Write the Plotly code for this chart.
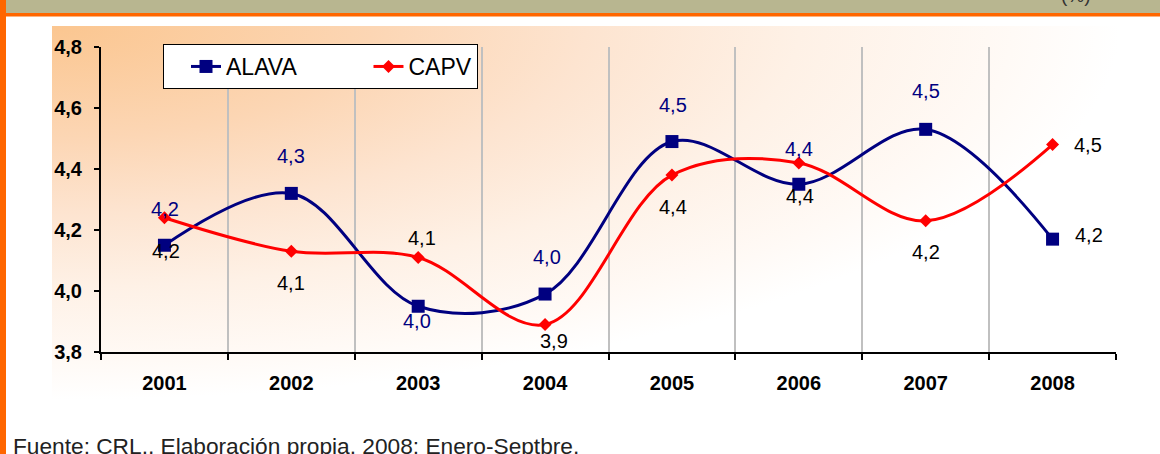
import base64
import plotly.graph_objects as go

# Datos (tasas, %)
years = ["2001", "2002", "2003", "2004", "2005", "2006", "2007", "2008"]
alava = [4.15, 4.32, 3.95, 3.99, 4.49, 4.35, 4.53, 4.17]
capv = [4.24, 4.13, 4.11, 3.89, 4.38, 4.42, 4.23, 4.48]
alava_labels = ["4,2", "4,3", "4,0", "4,0", "4,5", "4,4", "4,5", "4,2"]
capv_labels = ["4,2", "4,1", "4,1", "3,9", "4,4", "4,4", "4,2", "4,5"]

# desplazamientos de las etiquetas (px)
alava_shift = [(1, 36), (0, 37), (-1, -15), (2, 37), (1, 37), (0, 35), (0, 38), (36, 4)]
capv_shift = [(2, -33), (0, -32), (4, 19), (9, -16), (1, -32), (1, -33), (0, -31), (35, 0)]
alava_label_col = ["#000080"] * 7 + ["#000000"]

NAVY = "#000080"
RED = "#FF0000"
ORANGE = "#FF6600"
FONT = "Liberation Sans, Arial, sans-serif"
NBSP = "\u00a0"

W, H = 1160, 454
L, R, T, B = 101, 1116, 47, 352


def px_x(p):
    return (p - L) / (R - L)


def px_y(p):
    return (B - p) / (B - T)


fig = go.Figure()
fig.add_trace(go.Scatter(
    x=years, y=alava, name="ALAVA" + NBSP * 7, mode="lines+markers",
    line=dict(color=NAVY, width=3, shape="spline", smoothing=1),
    marker=dict(symbol="square", size=13, color=NAVY),
))
fig.add_trace(go.Scatter(
    x=years, y=capv, name="CAPV", mode="lines+markers",
    line=dict(color=RED, width=3, shape="spline", smoothing=1),
    marker=dict(symbol="diamond", size=10, color=RED),
))

# etiquetas de datos (x = indice de categoria)
annotations = []
for i in range(len(years)):
    annotations.append(dict(
        x=i, y=alava[i], xref="x", yref="y", text=alava_labels[i], showarrow=False,
        xshift=alava_shift[i][0], yshift=alava_shift[i][1],
        font=dict(family=FONT, size=20, color=alava_label_col[i]),
    ))
    annotations.append(dict(
        x=i, y=capv[i], xref="x", yref="y", text=capv_labels[i], showarrow=False,
        xshift=capv_shift[i][0], yshift=capv_shift[i][1],
        font=dict(family=FONT, size=20, color="#000000"),
    ))

annotations.append(dict(
    x=px_x(11), y=px_y(446), xref="paper", yref="paper", xanchor="left", yanchor="middle",
    text="Fuente: CRL., Elaboración propia. 2008: Enero-Septbre.", showarrow=False,
    font=dict(family=FONT, size=22.7, color="#222222"),
))
annotations.append(dict(
    x=px_x(1076), y=px_y(8), xref="paper", yref="paper", xanchor="center", yanchor="bottom",
    text="(%)", showarrow=False, font=dict(family=FONT, size=19, color="#333333"),
))

# fondo degradado del area del grafico
svg = (
    '<svg xmlns="http://www.w3.org/2000/svg" width="1068" height="374" preserveAspectRatio="none">'
    '<defs><radialGradient id="g" cx="0" cy="0" r="1" gradientUnits="objectBoundingBox">'
    '<stop offset="0" stop-color="#FBC690"/>'
    '<stop offset="0.3" stop-color="#FCD6B4"/>'
    '<stop offset="0.5" stop-color="#FDE4D0"/>'
    '<stop offset="0.7" stop-color="#FEF1E6"/>'
    '<stop offset="0.9" stop-color="#FFFAF6"/>'
    '<stop offset="1" stop-color="#FFFFFF"/>'
    '</radialGradient></defs><rect width="100%" height="100%" fill="url(#g)"/></svg>'
)
src = "data:image/svg+xml;base64," + base64.b64encode(svg.encode()).decode()

shapes = [
    dict(type="rect", xref="paper", yref="paper", x0=px_x(0), x1=px_x(W), y0=px_y(0), y1=px_y(13),
         fillcolor="#B8B690", line=dict(width=0), layer="above"),
    dict(type="rect", xref="paper", yref="paper", x0=px_x(0), x1=px_x(W), y0=px_y(13), y1=px_y(16.5),
         fillcolor=ORANGE, line=dict(width=0), layer="above"),
    dict(type="rect", xref="paper", yref="paper", x0=px_x(0), x1=px_x(6), y0=px_y(0), y1=px_y(H),
         fillcolor=ORANGE, line=dict(width=0), layer="above"),
]

fig.update_layout(
    width=W, height=H,
    margin=dict(l=L, r=W - R, t=T, b=H - B, autoexpand=False),
    paper_bgcolor="white", plot_bgcolor="rgba(0,0,0,0)",
    separators=",.",
    font=dict(family=FONT, color="#000000"),
    showlegend=True,
    legend=dict(
        orientation="h", x=px_x(163), y=px_y(44), xanchor="left", yanchor="top",
        bgcolor="white", bordercolor="black", borderwidth=1,
        font=dict(family=FONT, size=23, color="#000000"),
        indentation=22, itemclick=False,
    ),
    annotations=annotations,
    shapes=shapes,
    images=[dict(source=src, xref="paper", yref="paper", x=px_x(52), y=px_y(26),
                 sizex=(1120 - 52) / (R - L), sizey=(400 - 26) / (B - T),
                 xanchor="left", yanchor="top", sizing="stretch", layer="below")],
)
fig.update_xaxes(
    type="category", range=[-0.5, 7.5], tickson="boundaries",
    showline=True, linecolor="black", linewidth=2,
    ticks="outside", ticklen=6, tickwidth=2, tickcolor="black",
    showgrid=True, gridcolor="#C0C0C0", gridwidth=2,
    tickfont=dict(family=FONT, size=20, weight="bold"), ticklabelstandoff=12,
    zeroline=False,
)
fig.update_yaxes(
    range=[3.8, 4.8], dtick=0.2, tickformat=".1f",
    showline=True, linecolor="black", linewidth=2,
    ticks="outside", ticklen=5, tickwidth=2, tickcolor="black",
    showgrid=False, zeroline=False,
    tickfont=dict(family=FONT, size=20, weight="bold"), ticklabelstandoff=8,
)

fig.write_html("out.html", config={"displayModeBar": False},
               post_script="document.body.style.margin='0';")
